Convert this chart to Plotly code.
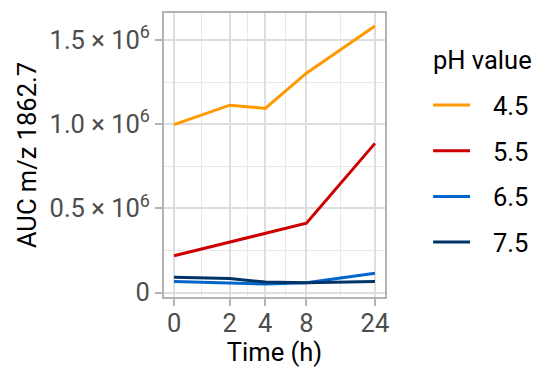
import numpy as np
import plotly.graph_objects as go

time_h = [0, 2, 4, 8, 24]
ph_labels = ["4.5", "5.5", "6.5", "7.5"]
auc_45 = [0.997e6, 1.113e6, 1.094e6, 1.303e6, 1.584e6]
auc_55 = [0.218e6, 0.299e6, 0.352e6, 0.412e6, 0.886e6]
auc_65 = [0.065e6, 0.058e6, 0.050e6, 0.058e6, 0.115e6]
auc_75 = [0.091e6, 0.083e6, 0.062e6, 0.058e6, 0.065e6]
colors = ["#FF9900", "#CC0000", "#0066CC", "#003366"]
x_ticks = [0, 2, 4, 8, 24]
y_ticks = [0, 0.5e6, 1.0e6, 1.5e6]
y_ticktext = ["0", "0.5 × 10<sup>6</sup>", "1.0 × 10<sup>6</sup>", "1.5 × 10<sup>6</sup>"]
legend_title = "pH value"


def tr(t):
    # pseudo-log transform (sigma = 1): asinh(x / 2)
    return np.arcsinh(np.asarray(t, dtype=float) / 2.0)


series = [auc_45, auc_55, auc_65, auc_75]
fig = go.Figure()
for lab, vals, col in zip(ph_labels, series, colors):
    fig.add_trace(go.Scatter(
        x=tr(time_h), y=vals, mode="lines", name="\u00a0\u00a0\u2009" + lab,
        line=dict(color=col, width=3), legendgroup=lab,
    ))

xt = tr(x_ticks)
x_minor = (xt[:-1] + xt[1:]) / 2
xr = [xt[0] - 0.05 * (xt[-1] - xt[0]), xt[-1] + 0.05 * (xt[-1] - xt[0])]
allv = np.concatenate([np.array(s) for s in series])
ymin, ymax = allv.min(), allv.max()
yr = [ymin - 0.05 * (ymax - ymin), ymax + 0.05 * (ymax - ymin)]
y_minor = [0.25e6, 0.75e6, 1.25e6]

FS = 25.5
axis_common = dict(
    showline=True, mirror=True, linecolor="#B3B3B3", linewidth=2,
    ticks="outside", ticklen=7, tickwidth=1.5, tickcolor="#B3B3B3",
    showgrid=True, gridcolor="#DEDEDE", gridwidth=1.5, zeroline=False,
    tickfont=dict(family="Roboto", size=FS, color="#4D4D4D"),
    automargin=False,
)

fig.update_layout(
    width=535, height=367,
    margin=dict(l=164, r=150, t=13, b=70, autoexpand=False),
    paper_bgcolor="white", plot_bgcolor="white",
    font=dict(family="Roboto", size=FS, color="black"),
    xaxis=dict(
        range=xr, tickmode="array", tickvals=xt, ticktext=[str(t) for t in x_ticks],
        ticklabelstandoff=-5,
        title=dict(text="Time (h)", font=dict(size=FS, color="black"), standoff=6),
        minor=dict(tickmode="array", tickvals=x_minor, showgrid=True,
                   gridcolor="#E8E8E8", gridwidth=1, ticks=""),
        **axis_common,
    ),
    yaxis=dict(
        range=yr, tickmode="array", tickvals=y_ticks, ticktext=y_ticktext,
        title=dict(text="AUC m/z 1862.7", font=dict(size=FS, color="black"), standoff=6),
        minor=dict(tickmode="array", tickvals=y_minor, showgrid=True,
                   gridcolor="#E8E8E8", gridwidth=1, ticks=""),
        **axis_common,
    ),
    legend=dict(
        font=dict(size=FS, color="black"),
        x=1.195, xanchor="left", y=0.757, yanchor="top",
        tracegroupgap=9.5, bgcolor="rgba(0,0,0,0)", itemwidth=37,
    ),
    annotations=[dict(
        text=legend_title, xref="paper", yref="paper", x=1.208, y=0.8345,
        xanchor="left", yanchor="middle", showarrow=False,
        font=dict(size=FS, color="black"),
    )],
)

fig.write_html("out.html")
